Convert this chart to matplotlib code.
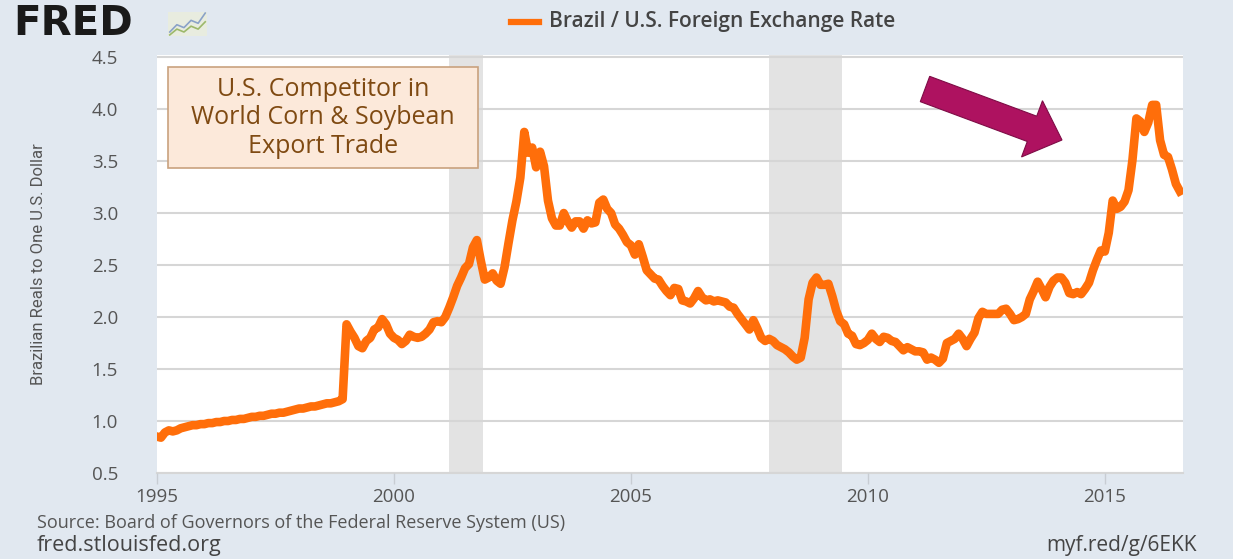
import numpy as np
import matplotlib
matplotlib.use("Agg")
import matplotlib.pyplot as plt
import matplotlib.patches as mpatches
import matplotlib.lines as mlines
from matplotlib.transforms import IdentityTransform

# monthly Brazil / U.S. exchange rate, one list per year (Jan..Dec)
years = list(range(1995, 2017))
rates = [
    [0.85, 0.84, 0.89, 0.91, 0.90, 0.91, 0.93, 0.94, 0.95, 0.96, 0.96, 0.97],  # 1995
    [0.97, 0.98, 0.98, 0.99, 0.99, 1.00, 1.00, 1.01, 1.01, 1.02, 1.02, 1.03],  # 1996
    [1.04, 1.04, 1.05, 1.05, 1.06, 1.07, 1.07, 1.08, 1.08, 1.09, 1.10, 1.11],  # 1997
    [1.12, 1.12, 1.13, 1.14, 1.14, 1.15, 1.16, 1.17, 1.17, 1.18, 1.19, 1.21],  # 1998
    [1.93, 1.86, 1.80, 1.72, 1.70, 1.77, 1.80, 1.88, 1.90, 1.98, 1.93, 1.84],  # 1999
    [1.80, 1.78, 1.74, 1.77, 1.83, 1.81, 1.80, 1.81, 1.84, 1.88, 1.95, 1.96],  # 2000
    [1.95, 2.00, 2.09, 2.19, 2.30, 2.38, 2.47, 2.51, 2.67, 2.74, 2.54, 2.36],  # 2001
    [2.38, 2.42, 2.35, 2.32, 2.48, 2.71, 2.93, 3.11, 3.34, 3.78, 3.58, 3.63],  # 2002
    [3.44, 3.59, 3.45, 3.12, 2.95, 2.88, 2.88, 3.00, 2.92, 2.86, 2.92, 2.92],  # 2003
    [2.85, 2.93, 2.90, 2.91, 3.10, 3.13, 3.04, 3.00, 2.89, 2.85, 2.79, 2.72],  # 2004
    [2.69, 2.60, 2.70, 2.58, 2.45, 2.41, 2.37, 2.36, 2.30, 2.25, 2.21, 2.28],  # 2005
    [2.27, 2.16, 2.15, 2.13, 2.18, 2.25, 2.19, 2.16, 2.17, 2.15, 2.16, 2.15],  # 2006
    [2.14, 2.10, 2.09, 2.03, 1.98, 1.93, 1.88, 1.97, 1.89, 1.80, 1.77, 1.79],  # 2007
    [1.77, 1.73, 1.71, 1.69, 1.66, 1.62, 1.59, 1.61, 1.80, 2.17, 2.33, 2.38],  # 2008
    [2.31, 2.31, 2.32, 2.20, 2.06, 1.96, 1.93, 1.84, 1.82, 1.74, 1.73, 1.75],  # 2009
    [1.78, 1.84, 1.79, 1.76, 1.81, 1.80, 1.77, 1.76, 1.72, 1.68, 1.71, 1.69],  # 2010
    [1.67, 1.67, 1.66, 1.59, 1.61, 1.59, 1.56, 1.60, 1.75, 1.77, 1.79, 1.84],  # 2011
    [1.79, 1.72, 1.79, 1.85, 1.99, 2.05, 2.03, 2.03, 2.03, 2.03, 2.07, 2.08],  # 2012
    [2.03, 1.97, 1.98, 2.00, 2.03, 2.17, 2.25, 2.34, 2.27, 2.19, 2.29, 2.35],  # 2013
    [2.38, 2.38, 2.33, 2.23, 2.22, 2.24, 2.22, 2.27, 2.33, 2.45, 2.55, 2.64],  # 2014
    [2.63, 2.81, 3.12, 3.04, 3.06, 3.11, 3.22, 3.51, 3.91, 3.88, 3.78, 3.87],  # 2015
    [4.04, 4.04, 3.70, 3.56, 3.54, 3.42, 3.28, 3.21],                          # 2016
]

recessions = [(2001.17, 2001.87), (2007.92, 2009.46)]
yticks = [0.5, 1.0, 1.5, 2.0, 2.5, 3.0, 3.5, 4.0, 4.5]
xticks = [1995, 2000, 2005, 2010, 2015]

# FRED logo sparkline
icon_a = [0.2, 0.45, 0.35, 0.6, 0.5, 0.85]
icon_b = [0.1, 0.3, 0.2, 0.4, 0.3, 0.55]

x = []
y = []
for yr, vals in zip(years, rates):
    for m, v in enumerate(vals):
        x.append(yr + m / 12.0)
        y.append(v)

W, H = 1233, 559
bg = '#E1E8F0'
orange = '#FF6E0A'
gray_txt = '#555555'

fig = plt.figure(figsize=(W / 100, H / 100), dpi=100, facecolor=bg)

def fx(px):
    return px / W

def fy(py):
    return 1 - py / H

ax = fig.add_axes([fx(157), fy(473), fx(1183) - fx(157), fy(55) - fy(473)])
ax.set_facecolor('white')

for a, b in recessions:
    ax.axvspan(a, b, color='#E3E3E3', zorder=1, lw=0)

ax.plot(x, y, color=orange, lw=6.2, zorder=3)

ax.set_xlim(1995.0, 2016.65)
ax.set_ylim(0.5, 4.52)
ax.set_yticks(yticks)
ax.set_yticklabels(['%.1f' % t for t in yticks])
ax.set_xticks(xticks)
ax.set_xticklabels([str(t) for t in xticks])
ax.yaxis.grid(True, color='#D6D6D6', lw=1.5, zorder=2)
ax.set_axisbelow(False)

for s in ['left', 'right', 'top']:
    ax.spines[s].set_visible(False)
ax.spines['bottom'].set_color('#D6D6D6')
ax.spines['bottom'].set_linewidth(1.5)

ax.tick_params(axis='y', length=0, pad=28, labelsize=13.5, labelcolor=gray_txt)
ax.tick_params(axis='x', length=8, width=1, color='#C8CDD3', pad=3, labelsize=13.5, labelcolor=gray_txt)
for lab in ax.get_xticklabels() + ax.get_yticklabels():
    lab.set_family('Open Sans')

ax.set_ylabel('Brazilian Reals to One U.S. Dollar', fontsize=12, color=gray_txt,
              family='Roboto')
ax.yaxis.set_label_coords(-0.108, 0.5)

# header: logo + legend
fig.text(fx(13), fy(24), 'FRED', fontsize=29, fontweight='heavy', color='#1A1A1A',
         family='DejaVu Sans', va='center', ha='left')
iax = fig.add_axes([fx(168), fy(36), fx(39), fy(0) - fy(24)])
iax.set_facecolor('#E8ECDF')
iax.plot(icon_a, color='#8AA2C8', lw=1.2)
iax.plot(icon_b, color='#9CB86A', lw=1.2)
iax.set_xticks([])
iax.set_yticks([])
for s in iax.spines.values():
    s.set_visible(False)

fig.add_artist(mlines.Line2D([fx(511), fx(539)], [fy(22), fy(22)], color=orange, lw=4.5))
fig.text(fx(549), fy(22), 'Brazil / U.S. Foreign Exchange Rate', fontsize=15,
         fontweight='semibold', color='#444444', family='Open Sans', va='center', ha='left')

# footer
fig.text(fx(37), fy(523), 'Source: Board of Governors of the Federal Reserve System (US)',
         fontsize=13, color=gray_txt, family='Open Sans', va='center', ha='left')
fig.text(fx(37), fy(546), 'fred.stlouisfed.org', fontsize=15.5, color='#444444',
         family='Open Sans', va='center', ha='left')
fig.text(fx(1197), fy(546), 'myf.red/g/6EKK', fontsize=15, color='#444444',
         family='Open Sans', va='center', ha='right')

# annotation box
box = mpatches.Rectangle((fx(168), fy(168)), fx(478) - fx(168), fy(67) - fy(168),
                         transform=fig.transFigure, facecolor='#FCE9DA',
                         edgecolor='#C9A27E', lw=1.2, zorder=5)
fig.add_artist(box)
fig.text(fx(323), fy(118), 'U.S. Competitor in\nWorld Corn & Soybean\nExport Trade',
         fontsize=18, color='#7F4A12', family='Open Sans', fontweight='medium',
         ha='center', va='center', linespacing=1.2, zorder=6)

# arrow
arrow = mpatches.FancyArrow(925, H - 89, 137, -51, width=27, head_width=60, head_length=32,
                            length_includes_head=True, transform=IdentityTransform(),
                            facecolor='#AE1260', edgecolor='#7E0C46', lw=0.8, zorder=7)
fig.add_artist(arrow)

fig.savefig('out.png', dpi=100, facecolor=bg)
